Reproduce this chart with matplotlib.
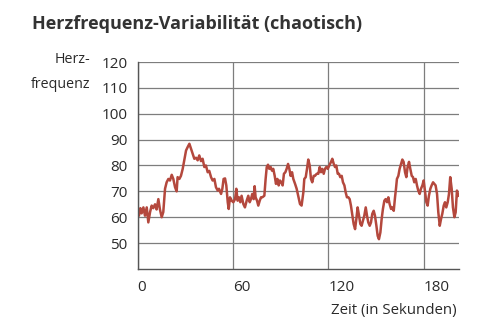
import matplotlib
matplotlib.use("Agg")
import matplotlib.pyplot as plt

# heart rate trace, time in seconds and beats per minute
zeit = [
    0.1, 0.9, 1.8, 2.6, 3.7, 4.7, 5.8, 6.8, 7.9, 8.9, 9.9, 11.0, 12.0, 13.1,
    14.1, 15.2, 16.2, 17.3, 18.3, 19.4, 20.4, 21.5, 22.5, 23.6, 24.6, 25.2,
    26.3, 27.3, 28.4, 29.4, 30.5, 31.5, 32.6, 33.6, 34.7, 35.7, 36.8, 37.8,
    38.8, 39.9, 40.9, 42.0, 43.0, 44.1, 45.1, 46.2, 47.2, 48.3, 49.3, 50.4,
    51.2, 52.5, 53.3, 54.1, 55.0, 55.8, 56.7, 57.3, 58.1, 59.2, 60.2, 61.3,
    62.1, 62.9, 63.8, 64.6, 65.4, 66.5, 67.5, 68.6, 69.6, 70.5, 71.3, 72.1,
    73.0, 73.6, 74.2, 75.1, 75.9, 76.8, 77.6, 78.4, 79.7, 80.5, 81.2, 82.0,
    82.8, 83.7, 84.5, 85.3, 86.2, 87.0, 87.9, 88.7, 89.5, 90.4, 91.2, 92.0,
    92.9, 93.7, 94.6, 95.4, 96.2, 97.1, 97.9, 99.0, 100.0, 101.1, 102.1,
    103.1, 104.2, 104.8, 105.7, 106.5, 107.3, 108.2, 109.0, 109.8, 110.7,
    111.5, 112.6, 113.6, 114.5, 115.3, 116.1, 117.0, 117.8, 118.6, 119.5,
    120.5, 121.6, 122.4, 123.3, 124.1, 124.9, 125.8, 126.6, 127.4, 128.3,
    129.1, 130.0, 130.8, 131.6, 132.5, 133.3, 134.1, 135.0, 135.8, 136.7,
    137.5, 138.3, 139.2, 140.0, 140.8, 141.7, 142.5, 143.4, 144.2, 145.0,
    145.9, 146.7, 147.5, 148.4, 149.2, 150.1, 150.9, 151.7, 152.6, 153.4,
    154.2, 155.1, 155.9, 156.8, 157.6, 158.4, 159.3, 160.1, 161.0, 161.8,
    162.4, 163.0, 163.9, 164.7, 165.6, 166.4, 167.2, 168.1, 168.9, 169.7,
    170.6, 171.4, 172.3, 173.1, 173.9, 174.8, 175.6, 176.4, 177.3, 178.1,
    179.0, 179.8, 180.6, 181.5, 182.3, 183.1, 184.0, 184.8, 185.7, 186.5,
    187.3, 188.2, 189.0, 189.9, 190.7, 191.5, 192.4, 193.2, 194.0, 194.9,
    195.7, 196.5, 197.4, 198.2, 199.1, 199.9, 200.7, 201.6,
]
puls = [
    63.8, 60.6, 63.5, 61.5, 63.8, 60.6, 63.8, 58.0, 62.0, 64.5, 63.5, 65.0,
    63.0, 67.0, 63.0, 60.0, 62.0, 71.0, 73.5, 74.8, 74.2, 76.4, 74.8, 71.6,
    70.0, 75.5, 74.8, 76.0, 78.7, 82.0, 85.8, 87.1, 88.4, 86.5, 84.5, 82.6,
    83.0, 82.0, 83.9, 81.7, 82.6, 79.4, 80.0, 77.4, 77.9, 75.5, 74.2, 74.8,
    71.6, 70.3,
    71.0, 69.0, 71.0, 74.8, 75.0, 72.3, 65.8, 63.2, 67.7, 66.4, 65.8, 67.0,
    71.0, 66.4, 67.7, 65.8, 68.3, 65.1, 63.8, 66.4, 68.3, 65.8, 67.0, 69.0,
    67.0, 72.0, 67.7, 66.4, 64.5, 66.4, 67.7, 67.7, 68.3, 74.8, 79.4, 80.3,
    78.7, 79.4, 78.0, 78.7, 76.0, 72.9, 74.8, 72.3, 74.2, 73.5, 72.3, 76.8,
    77.4, 78.7, 80.6, 78.7, 76.0, 77.4, 74.8, 72.9, 71.0, 68.0, 65.1,
    64.5, 69.6, 74.8, 75.5, 78.7, 82.3, 80.0, 74.8, 73.5, 76.0,
    76.0, 76.8, 76.8, 79.4, 77.4, 78.7, 76.8, 78.7, 79.4, 78.7,
    80.0, 81.4, 82.6, 80.6, 79.4, 80.0, 76.8, 76.8, 75.5, 76.0,
    73.5, 72.3, 69.6, 67.7, 67.7, 67.0, 64.5, 60.6, 57.4, 55.4,
    59.3, 63.8, 60.6, 57.4, 56.7, 58.7, 60.6, 63.8, 60.6, 58.0,
    56.7, 58.0, 61.3, 62.5, 60.6, 56.7, 52.8, 51.5, 54.1, 59.3,
    63.2, 66.4, 67.0, 65.8, 67.7, 65.1, 63.2, 63.8, 62.5, 67.7,
    71.0, 74.8, 76.0, 78.7, 80.6, 82.3, 81.4, 77.4, 75.5, 79.4,
    81.4, 78.7, 76.0, 75.5, 73.5, 74.8, 72.3, 70.3, 69.0, 71.0,
    72.3, 74.2, 70.3, 65.8, 64.5, 68.3, 71.0, 72.3, 73.5, 72.9,
    72.3, 69.0, 61.9, 56.7, 59.3, 61.3, 64.5, 65.8, 63.8, 65.8,
    69.0, 75.5, 71.0, 63.8, 60.0, 61.9, 70.3, 68.3,
]

x_ticks = [0, 60, 120, 180]
y_ticks = [50, 60, 70, 80, 90, 100, 110, 120]

schrift = ["Open Sans", "DejaVu Sans"]
text_farbe = "#2a2a2a"
gitter_farbe = "#7d7d7d"

fig = plt.figure(figsize=(5, 3.3), dpi=100)
ax = fig.add_axes([0.275, 0.185, 0.643, 0.627])

ax.plot(zeit, puls, color="#b4483d", lw=1.8, solid_joinstyle="round")

ax.set_xlim(0, 202)
ax.set_ylim(40, 120)
ax.set_xticks(x_ticks)
ax.set_yticks(y_ticks)
ax.grid(True, color=gitter_farbe, lw=0.9)
ax.set_axisbelow(True)
ax.tick_params(length=0, colors=text_farbe, labelsize=11)
ax.tick_params(axis="y", pad=7)
ax.tick_params(axis="x", pad=8)
for lbl in ax.get_xticklabels():
    lbl.set_horizontalalignment("left")
for lbl in ax.get_xticklabels() + ax.get_yticklabels():
    lbl.set_family(schrift)

for side in ["top", "right"]:
    ax.spines[side].set_visible(False)
for side in ["left", "bottom"]:
    ax.spines[side].set_color("#555555")
    ax.spines[side].set_linewidth(1.0)

fig.text(0.064, 0.928, "Herzfrequenz-Variabilität (chaotisch)", fontsize=13,
         fontweight="bold", color="#333333", family=schrift, va="center")
fig.text(0.181, 0.821, "Herz-", fontsize=10.3, color=text_farbe,
         family=schrift, ha="right", va="center")
fig.text(0.181, 0.745, "frequenz", fontsize=10.3, color=text_farbe,
         family=schrift, ha="right", va="center")
fig.text(0.914, 0.06, "Zeit (in Sekunden)", fontsize=10.8, color=text_farbe,
         family=schrift, ha="right", va="center")

fig.savefig("out.png", dpi=100)
